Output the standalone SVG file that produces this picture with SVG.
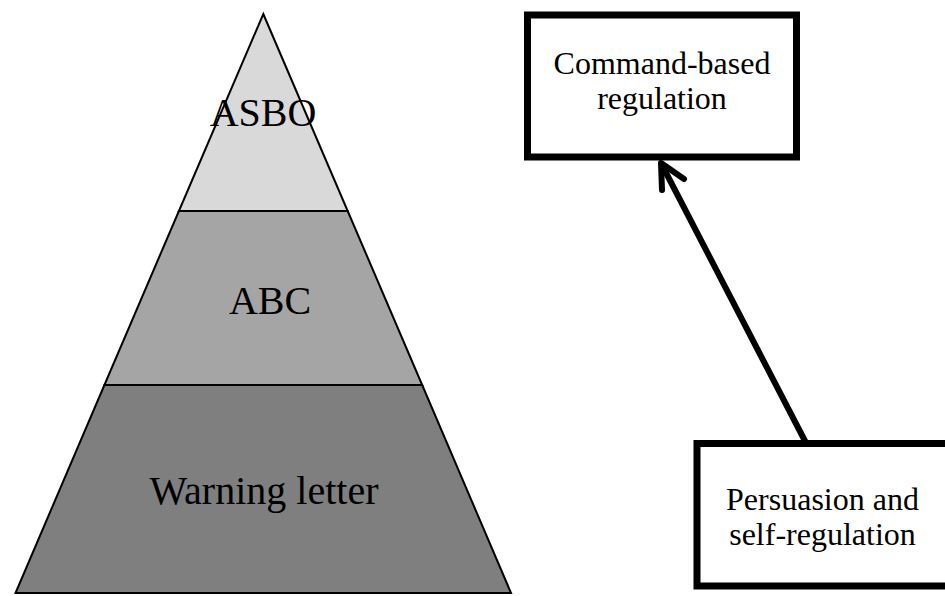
<svg xmlns="http://www.w3.org/2000/svg" width="945" height="596" viewBox="0 0 945 596">
  <style>
    .tier { stroke: #000; stroke-width: 2; stroke-linejoin: miter; }
    .pt { font-family: "Liberation Serif", "Times New Roman", serif; font-size: 40px; fill: #000; text-anchor: middle; }
    .box { fill: #fff; stroke: #000; stroke-width: 7; }
    .bt { font-family: "Liberation Serif", "Times New Roman", serif; font-size: 32px; fill: #000; text-anchor: middle; }
    .conn { stroke: #000; stroke-width: 6; fill: none; stroke-linecap: round; stroke-linejoin: round; }
  </style>
  <rect x="0" y="0" width="945" height="596" fill="#fff"/>
  <g id="pyramid">
    <g id="tier-asbo">
      <polygon class="tier" fill="#d9d9d9" points="263.3,14 347.7,211 178.9,211"/>
      <text class="pt" x="263" y="126">ASBO</text>
    </g>
    <g id="tier-abc">
      <polygon class="tier" fill="#a5a5a5" points="178.9,211 347.7,211 422.2,385 104.4,385"/>
      <text class="pt" x="270" y="314">ABC</text>
    </g>
    <g id="tier-warning">
      <polygon class="tier" fill="#7f7f7f" points="104.4,385 422.2,385 511,593 15.5,593"/>
      <text class="pt" x="264" y="504">Warning letter</text>
    </g>
  </g>
  <g id="connectors">
    <line class="conn" x1="805" y1="441" x2="662" y2="165"/>
    <polyline class="conn" points="662,190 661,163 684,179"/>
  </g>
  <g id="command-based">
    <rect class="box" x="527.5" y="15" width="269" height="142"/>
    <text class="bt" x="662" y="74">Command-based</text>
    <text class="bt" x="662" y="109">regulation</text>
  </g>
  <g id="persuasion">
    <rect class="box" x="697" y="443.5" width="260" height="142.5"/>
    <text class="bt" x="822.5" y="510">Persuasion and</text>
    <text class="bt" x="822.5" y="545">self-regulation</text>
  </g>
</svg>
